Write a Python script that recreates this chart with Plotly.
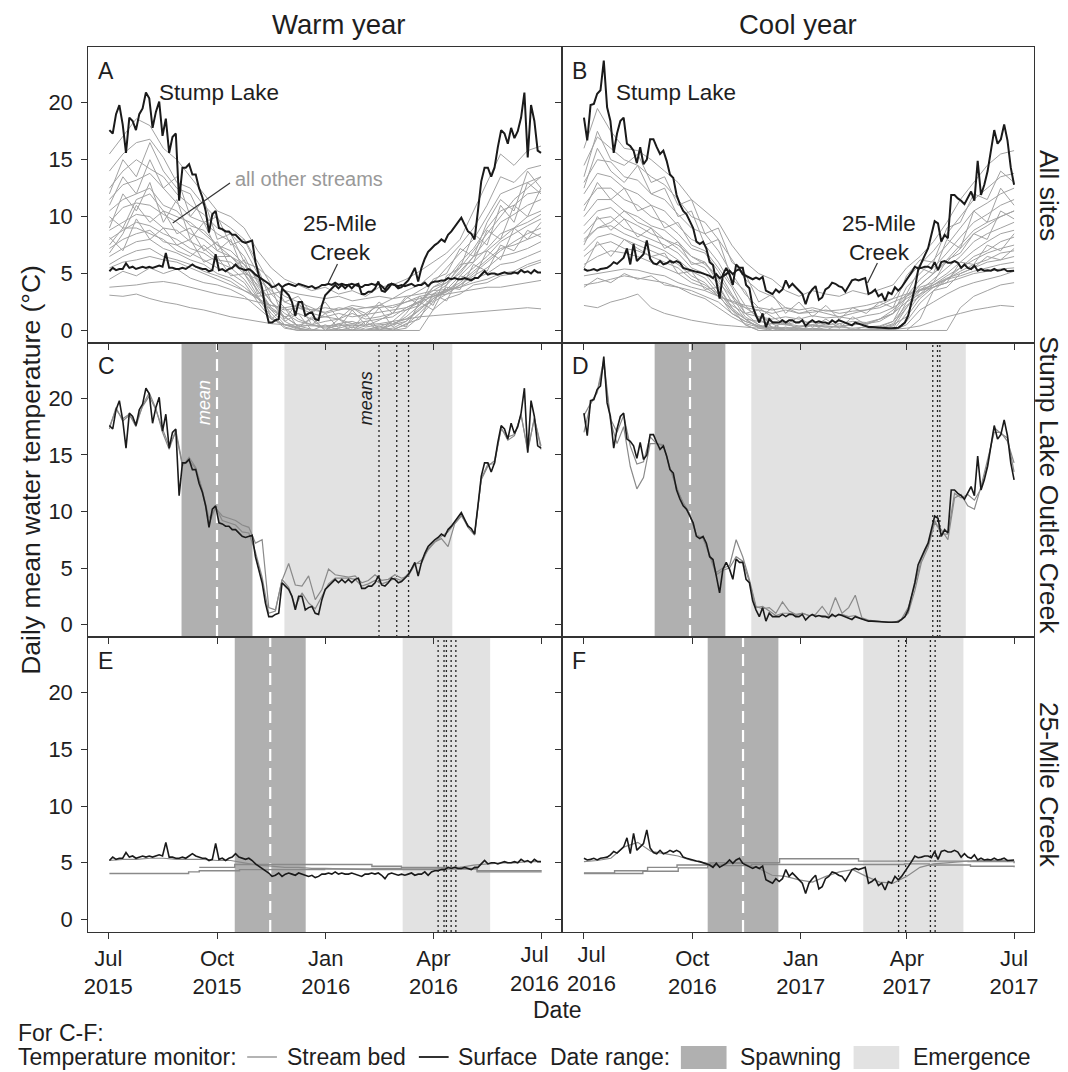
import plotly.graph_objects as go
from plotly.subplots import make_subplots
import pandas as pd

# ------------------------------------------------------------------ data
# Stump Lake Outlet Creek, surface monitor (also the black "Stump Lake" line in A/B)
stump_2015 = [17.6, 17.3, 19.0, 19.8, 18.1, 15.6, 18.7, 18.4, 17.6, 19.0,
              19.5, 20.9, 20.4, 17.8, 19.2, 20.1, 17.1, 18.6, 15.6, 17.0,
              17.3, 11.4, 14.3, 14.3, 14.6, 13.7, 13.7, 12.5, 11.7, 10.5,
              8.6, 10.2, 10.5, 9.0, 8.9, 8.7, 8.7, 8.4, 8.4, 8.1,
              7.8, 7.7, 7.8, 7.9, 6.0, 4.9, 3.7, 1.9, 0.7, 0.7,
              0.9, 1.0, 3.7, 3.4, 3.1, 2.5, 1.3, 2.5, 2.5, 1.3,
              1.5, 1.6, 1.0, 0.9, 2.2, 3.1, 3.4, 3.7, 4.0, 3.7,
              4.0, 3.7, 4.0, 3.7, 4.0, 4.1, 3.2, 3.2, 3.4, 3.4,
              3.7, 4.3, 3.5, 3.4, 3.7, 4.1, 4.0, 3.7, 3.8, 4.1,
              4.4, 4.9, 5.5, 4.3, 5.5, 6.3, 6.9, 7.2, 7.5, 7.7,
              8.0, 7.8, 8.4, 8.7, 9.1, 9.4, 9.9, 9.3, 8.7, 8.5,
              8.0, 10.5, 13.1, 14.3, 14.3, 13.5, 14.3, 16.1, 17.6, 17.3,
              16.4, 17.8, 16.9, 17.5, 18.7, 20.9, 15.2, 19.8, 18.4, 15.8,
              15.6]
stump_2016 = [18.7, 16.7, 19.8, 19.9, 20.8, 21.1, 23.7, 19.6, 18.4, 15.6,
              17.3, 18.4, 18.7, 16.4, 16.2, 15.8, 14.7, 16.1, 14.6, 15.0,
              16.8, 16.8, 16.1, 15.5, 15.8, 14.9, 13.7, 13.4, 11.9, 11.1,
              10.5, 10.2, 9.6, 9.0, 7.8, 7.6, 7.8, 7.2, 6.0, 5.75,
              4.3, 2.8, 4.9, 5.5, 4.9, 4.0, 5.8, 5.5, 5.5, 4.0,
              3.7, 2.1, 1.3, 0.7, 1.5, 0.3, 1.0, 0.7, 0.7, 0.7,
              0.9, 0.7, 0.9, 0.9, 0.7, 0.7, 0.9, 0.4, 0.7, 0.9,
              0.7, 0.8, 0.7, 0.7, 0.6, 0.9, 0.7, 0.9, 0.8, 0.7,
              0.6, 0.45, 0.7, 0.6, 0.45, 0.4, 0.3, 0.3, 0.27, 0.24,
              0.24, 0.2, 0.2, 0.2, 0.2, 0.24, 0.45, 0.7, 1.3, 2.5,
              3.7, 5.3, 6.0, 6.6, 7.2, 8.4, 9.6, 9.4, 7.8, 8.4,
              8.1, 11.9, 11.9, 11.6, 11.4, 11.1, 11.7, 12.2, 11.4, 14.9,
              11.9, 12.8, 14.0, 15.8, 17.6, 16.4, 16.8, 18.1, 16.7, 14.3,
              12.8]

# 25-Mile Creek, surface monitor (also the black "25-Mile Creek" line in A/B)
mile25_2015 = [5.2, 5.5, 5.3, 5.4, 5.4, 5.9, 5.5, 5.6, 5.4, 5.5,
               5.6, 5.5, 5.6, 5.5, 5.6, 5.7, 5.6, 6.8, 5.5, 5.5,
               5.4, 5.4, 5.5, 5.4, 5.6, 5.8, 5.6, 5.5, 5.4, 5.4,
               5.2, 5.3, 6.7, 5.3, 5.4, 5.2, 5.4, 5.5, 5.8, 5.5,
               5.4, 5.3, 5.4, 5.2, 4.9, 4.7, 4.5, 4.3, 4.1, 3.8,
               3.9, 4.1, 3.8, 4.0, 4.1, 4.0, 3.9, 4.1, 4.0, 3.9,
               3.8, 3.9, 3.7, 3.8, 4.0, 4.0, 4.1, 4.0, 4.2, 4.0,
               4.1, 4.0, 4.0, 4.1, 4.0, 3.9, 3.8, 4.0, 4.0, 4.1,
               4.0, 4.1, 3.9, 3.6, 4.0, 4.1, 4.0, 3.9, 4.0, 3.9,
               4.0, 4.1, 3.9, 4.0, 4.0, 4.2, 3.9, 4.2, 4.3, 4.3,
               4.4, 4.4, 4.6, 4.5, 4.6, 4.5, 4.5, 4.6, 4.5, 4.4,
               4.6, 4.6, 4.9, 5.2, 4.9, 5.0, 5.0, 4.9, 5.0, 5.1,
               5.0, 5.0, 5.1, 5.0, 5.3, 5.1, 5.2, 5.0, 5.3, 5.1,
               5.1]
mile25_2016 = [5.4, 5.25, 5.3, 5.4, 5.25, 5.4, 5.45, 5.5, 5.7, 6.0,
               5.85, 6.1, 6.4, 7.2, 5.8, 7.6, 6.1, 6.4, 6.7, 7.9,
               6.3, 5.9, 5.8, 6.1, 5.8, 5.9, 6.1, 5.95, 6.1, 5.95,
               5.5, 5.4, 5.3, 5.25, 5.15, 5.1, 5.0, 4.95, 4.8, 4.6,
               4.95, 4.6, 4.8, 4.95, 5.25, 4.95, 5.25, 5.4, 4.95, 4.8,
               4.65, 4.5, 4.65, 4.5, 4.7, 3.5, 3.35, 3.2, 3.6, 3.35,
               3.6, 4.4, 3.8, 4.1, 3.8, 3.5, 3.2, 2.3, 3.2, 3.6,
               3.9, 2.7, 2.9, 3.6, 3.8, 4.2, 4.1, 3.9, 3.8, 3.4,
               3.9, 4.4, 4.5, 4.4, 4.5, 4.6, 3.2, 3.35, 3.6, 3.0,
               3.2, 2.6, 3.35, 3.2, 3.8, 3.5, 3.8, 4.2, 4.65, 5.1,
               5.6, 5.45, 5.5, 5.6, 5.6, 5.45, 6.0, 5.3, 6.0, 6.1,
               5.95, 5.95, 6.1, 5.95, 5.5, 5.8, 5.5, 5.4, 5.7, 5.25,
               5.4, 5.25, 5.3, 5.25, 5.4, 5.25, 5.3, 5.4, 5.2, 5.25,
               5.25]

# Stump Lake Outlet Creek, stream-bed monitors
stump_bed_2015_a = [17.3, 19.2, 18.0, 18.5, 17.8, 19.3, 20.2, 19.0, 17.3, 15.8,
                    17.0, 14.0, 14.8, 13.9, 11.9, 9.4, 10.3, 9.6, 9.4, 9.2,
                    8.8, 8.6, 7.2, 7.5, 1.5, 1.3, 3.9, 5.4, 3.5, 3.4,
                    4.3, 2.2, 3.1, 4.9, 4.4, 4.3, 4.2, 4.3, 3.7, 3.9,
                    4.4, 3.9, 4.0, 4.4, 4.1, 4.3, 5.3, 5.7, 6.6, 7.3,
                    7.6, 6.9, 8.9, 9.6, 8.8, 8.0, 12.8, 14.0, 14.5, 17.3,
                    16.6, 16.8, 18.5, 15.5, 18.2, 15.8]
stump_bed_2015_b = [17.5, 19.0, 18.2, 18.6, 17.5, 19.4, 20.5, 19.1, 17.0, 15.5,
                    17.2, 14.2, 14.5, 13.8, 11.8, 8.9, 10.4, 9.2, 9.0, 8.8,
                    8.2, 8.1, 6.4, 4.2, 1.0, 1.2, 4.0, 3.3, 1.6, 2.8,
                    1.9, 1.4, 2.5, 3.6, 4.1, 4.1, 4.1, 4.0, 3.4, 3.6,
                    3.9, 3.6, 3.8, 4.1, 3.9, 4.5, 5.4, 5.4, 6.7, 7.3,
                    7.8, 8.2, 8.9, 9.7, 8.6, 7.9, 12.9, 14.2, 14.2, 17.4,
                    16.3, 16.7, 18.6, 15.3, 18.3, 15.5]
stump_bed_2016_a = [17.0, 19.5, 20.5, 23.0, 18.0, 16.0, 17.5, 14.0, 12.0, 13.0,
                    16.0, 16.0, 15.8, 13.9, 12.0, 10.8, 9.8, 7.9, 7.6, 6.2,
                    4.6, 5.0, 5.2, 7.5, 6.0, 4.0, 1.6, 1.4, 1.5, 1.0,
                    2.0, 1.2, 0.9, 1.0, 0.8, 0.9, 1.6, 0.8, 2.4, 1.0,
                    1.5, 2.6, 0.6, 0.4, 0.3, 0.25, 0.2, 0.2, 0.4, 1.0,
                    3.0, 5.5, 6.8, 9.0, 8.4, 7.5, 11.2, 11.5, 10.5, 10.2,
                    12.2, 14.5, 17.0, 17.0, 16.2, 14.3]
stump_bed_2016_b = [18.5, 19.6, 20.6, 23.4, 18.2, 17.0, 18.5, 15.8, 14.2, 14.4,
                    16.6, 16.0, 15.9, 13.8, 12.1, 10.6, 9.7, 7.9, 7.7, 6.1,
                    4.4, 4.8, 5.0, 6.0, 5.6, 3.8, 1.5, 1.6, 1.2, 0.8,
                    1.0, 1.0, 0.8, 1.0, 0.8, 0.8, 0.8, 0.7, 0.8, 0.9,
                    0.7, 0.8, 0.5, 0.35, 0.3, 0.25, 0.2, 0.2, 0.5, 1.5,
                    3.5, 5.8, 7.0, 9.2, 8.0, 8.0, 11.6, 11.2, 11.5, 11.0,
                    12.0, 14.2, 17.4, 16.9, 16.5, 13.5]

# 25-Mile Creek, stream-bed monitors
mile25_bed_2015_a = [5.2, 5.3, 5.3, 5.4, 5.4, 5.3, 5.3, 5.3, 5.2, 5.2, 5.0, 4.8,
                     4.7, 4.6, 4.6, 4.5, 4.5, 4.45, 4.45, 4.4, 4.4, 4.4, 4.4,
                     4.35, 4.4, 4.5, 4.6, 4.8, 4.9, 5.0, 5.0, 5.1, 5.1]
mile25_bed_2015_b_dates = ["2015-07-02", "2015-09-07", "2015-09-16", "2015-10-20",
                           "2015-12-31", "2016-02-09", "2016-03-05", "2016-05-08",
                           "2016-07-01"]
mile25_bed_2015_b = [4.05, 4.2, 4.3, 4.4, 4.45, 4.5, 4.45, 4.2, 4.15]
mile25_bed_2015_c_dates = ["2015-09-16", "2015-10-16", "2016-02-09", "2016-03-05",
                           "2016-04-24", "2016-05-08", "2016-07-01"]
mile25_bed_2015_c = [4.6, 4.85, 4.7, 4.6, 4.5, 4.3, 4.25]

mile25_bed_2016_a = [5.1, 5.2, 5.4, 6.4, 6.8, 6.0, 5.8, 5.6, 5.2, 5.0, 4.8, 5.0,
                     4.9, 4.5, 3.9, 3.8, 3.5, 3.3, 3.8, 4.2, 4.4, 3.8, 3.3,
                     3.2, 3.8, 4.6, 4.9, 5.0, 5.1, 5.2, 5.2, 5.2, 5.2]
mile25_bed_2016_b_dates = ["2016-07-01", "2016-07-27", "2016-08-24", "2016-09-18",
                           "2016-10-16", "2016-12-14", "2017-02-19", "2017-05-23",
                           "2017-07-01"]
mile25_bed_2016_b = [4.1, 4.3, 4.6, 4.8, 5.0, 5.35, 5.15, 5.1, 4.95]
mile25_bed_2016_c_dates = ["2016-07-01", "2016-08-20", "2016-09-19", "2016-10-14",
                           "2016-11-20", "2017-03-30", "2017-04-20", "2017-05-25",
                           "2017-07-01"]
mile25_bed_2016_c = [4.05, 4.25, 4.55, 4.75, 4.85, 4.9, 4.8, 4.7, 4.6]

# All other streams (surface), warm year 2015-16
others_2015_01 = [15.5, 17.0, 18.6, 18.0, 16.0, 15.0, 13.5, 12.0, 10.5, 10.0, 9.0, 7.0, 5.5, 4.5, 4.0, 3.5, 3.8, 3.2, 3.5, 3.0, 3.8, 4.0, 4.5, 5.2, 6.0, 6.8, 8.0, 10.5, 13.0, 15.5, 14.5, 15.8, 16.2]
others_2015_02 = [14.0, 15.5, 16.5, 16.8, 15.2, 13.0, 12.5, 11.0, 9.8, 9.0, 8.0, 6.0, 4.0, 3.0, 2.5, 2.0, 1.5, 1.8, 2.0, 1.5, 2.2, 2.8, 3.5, 4.0, 5.0, 6.2, 7.5, 9.0, 11.0, 13.5, 13.0, 14.2, 14.5]
others_2015_03 = [12.5, 14.0, 15.0, 14.2, 13.5, 12.0, 11.0, 10.2, 9.0, 8.5, 7.2, 5.0, 3.2, 2.0, 1.0, 0.5, 0.3, 0.6, 0.8, 0.4, 0.9, 1.5, 2.8, 3.5, 4.2, 5.5, 6.8, 8.0, 10.0, 12.0, 12.5, 13.0, 13.5]
others_2015_04 = [11.5, 12.8, 13.2, 13.8, 12.5, 11.2, 10.0, 9.5, 8.5, 7.8, 6.5, 4.2, 2.5, 1.2, 0.4, 0.1, 0.0, 0.2, 0.5, 0.1, 0.3, 0.8, 1.8, 2.5, 3.8, 4.5, 6.0, 7.2, 9.0, 10.5, 11.0, 12.0, 12.2]
others_2015_05 = [10.5, 11.5, 12.0, 12.5, 11.0, 10.5, 9.2, 8.8, 7.5, 7.0, 5.8, 3.8, 2.0, 0.8, 0.2, 0.0, 0.0, 0.1, 0.0, 0.0, 0.2, 0.5, 1.2, 2.2, 3.2, 4.0, 5.2, 6.5, 8.0, 9.5, 10.2, 11.0, 11.5]
others_2015_06 = [9.5, 10.8, 11.2, 11.0, 10.2, 9.5, 8.5, 8.0, 7.0, 6.5, 5.5, 3.5, 1.8, 0.5, 0.1, 0.0, 0.0, 0.0, 0.1, 0.0, 0.1, 0.2, 0.8, 1.8, 3.0, 3.6, 4.8, 6.0, 7.2, 8.5, 9.0, 10.0, 10.5]
others_2015_07 = [8.8, 9.5, 10.2, 10.0, 9.0, 8.8, 7.8, 7.2, 6.2, 6.0, 5.0, 3.0, 1.5, 0.3, 0.0, 0.0, 0.0, 0.0, 0.0, 0.0, 0.0, 0.1, 0.5, 1.5, 2.8, 3.4, 4.5, 5.5, 6.5, 7.8, 8.5, 9.2, 9.8]
others_2015_08 = [8.0, 8.8, 9.5, 9.2, 8.5, 8.0, 7.2, 6.8, 6.0, 5.5, 4.5, 2.8, 1.2, 0.2, 0.0, 0.0, 0.0, 0.0, 0.0, 0.0, 0.0, 0.0, 0.2, 1.2, 2.5, 3.2, 4.0, 5.0, 6.0, 7.0, 7.8, 8.5, 9.0]
others_2015_09 = [7.2, 8.0, 8.5, 8.8, 7.8, 7.5, 6.8, 6.2, 5.5, 5.0, 4.2, 2.5, 1.0, 0.5, 0.3, 0.5, 0.2, 0.4, 0.6, 0.3, 0.5, 0.6, 1.0, 1.8, 2.8, 3.5, 4.2, 5.2, 6.2, 7.2, 7.5, 8.0, 8.5]
others_2015_10 = [6.5, 7.2, 7.8, 8.0, 7.2, 6.8, 6.2, 5.8, 5.0, 4.6, 3.8, 2.8, 1.8, 1.2, 1.5, 1.0, 1.2, 1.5, 1.2, 1.4, 1.6, 1.8, 2.0, 2.5, 3.0, 3.4, 4.0, 4.8, 5.5, 6.5, 6.8, 7.2, 7.8]
others_2015_11 = [5.8, 6.5, 7.0, 7.2, 6.5, 6.2, 5.8, 5.2, 4.8, 4.3, 3.5, 2.8, 2.2, 1.8, 2.0, 1.8, 1.6, 2.0, 1.8, 2.0, 2.2, 2.0, 2.5, 3.0, 3.2, 3.5, 3.8, 4.5, 5.0, 5.8, 6.0, 6.5, 7.0]
others_2015_12 = [5.5, 6.0, 6.2, 6.5, 6.2, 6.0, 5.5, 5.0, 4.5, 4.0, 3.5, 3.0, 3.2, 3.5, 3.2, 3.0, 2.8, 3.0, 2.6, 2.8, 3.0, 2.8, 3.0, 3.2, 3.5, 3.6, 3.8, 4.2, 4.5, 5.0, 5.2, 5.8, 6.2]
others_2015_13 = [3.8, 3.9, 4.0, 4.2, 4.3, 4.1, 3.8, 3.5, 3.2, 3.0, 2.8, 2.5, 2.2, 2.0, 2.2, 1.8, 2.0, 1.8, 2.2, 2.0, 2.0, 2.2, 2.5, 2.8, 3.0, 3.2, 3.4, 3.6, 3.8, 3.8, 4.0, 4.2, 4.4]
others_2015_14 = [3.1, 3.0, 3.2, 2.8, 2.5, 2.3, 2.0, 1.8, 1.5, 1.2, 1.0, 0.8, 0.6, 0.5, 0.5, 0.4, 0.4, 0.5, 0.4, 0.5, 0.6, 0.8, 1.0, 1.2, 1.3, 1.4, 1.5, 1.6, 1.7, 1.8, 1.9, 2.0, 1.9]
others_2015_15 = [10.0, 9.0, 11.5, 12.0, 10.5, 10.0, 9.5, 8.5, 7.5, 6.5, 5.2, 4.0, 2.5, 1.5, 0.8, 0.5, 0.8, 1.0, 0.6, 0.8, 1.0, 1.2, 2.0, 2.6, 3.5, 4.2, 5.5, 7.0, 8.5, 10.0, 11.5, 12.5, 13.5]
others_2015_16 = [7.5, 9.0, 9.0, 8.5, 8.0, 7.0, 6.5, 7.5, 6.5, 6.5, 5.8, 4.5, 3.5, 2.5, 2.0, 1.5, 1.2, 1.0, 1.5, 1.0, 1.2, 1.5, 1.8, 2.2, 3.8, 4.2, 5.0, 6.5, 7.0, 8.0, 9.0, 9.5, 10.2]
others_2015_17 = [11.0, 13.5, 12.0, 15.0, 12.5, 13.5, 10.0, 11.5, 8.0, 8.5, 6.0, 5.5, 2.5, 1.0, 2.5, 0.5, 1.5, 0.2, 1.8, 0.5, 2.0, 0.3, 1.5, 3.0, 2.2, 4.8, 5.5, 8.5, 7.5, 11.0, 9.5, 13.0, 12.0]
others_2015_18 = [9.0, 12.0, 10.5, 13.0, 9.5, 11.5, 8.0, 9.5, 7.0, 8.0, 5.0, 4.5, 1.0, 2.0, 0.2, 1.2, 0.0, 1.0, 0.2, 1.5, 0.0, 0.8, 0.3, 2.5, 1.8, 4.0, 5.8, 6.0, 8.8, 8.0, 11.0, 10.0, 12.5]
others_2015_19 = [6.8, 8.5, 11.0, 9.5, 10.5, 8.5, 9.0, 7.0, 7.8, 5.5, 6.2, 3.2, 3.8, 0.8, 1.5, 0.0, 0.5, 0.0, 0.3, 0.0, 0.4, 0.0, 0.6, 1.0, 3.2, 2.6, 4.8, 4.5, 7.0, 6.2, 9.0, 8.0, 9.5]
others_2015_20 = [12.0, 15.0, 13.5, 16.5, 14.0, 12.5, 12.0, 9.5, 10.0, 7.5, 8.0, 5.5, 4.5, 2.5, 3.0, 1.5, 2.5, 1.0, 2.0, 1.2, 2.5, 1.5, 3.0, 2.2, 4.5, 5.0, 7.2, 6.5, 9.5, 11.5, 10.5, 14.0, 12.5]
others_2015_21 = [8.2, 7.0, 9.8, 8.0, 9.0, 7.5, 8.0, 6.0, 6.5, 4.8, 5.0, 3.5, 2.0, 1.2, 0.4, 1.0, 0.0, 0.6, 0.0, 0.8, 0.0, 0.5, 0.8, 2.0, 2.6, 3.8, 3.6, 5.8, 5.2, 7.5, 7.0, 8.8, 8.2]
others_2015_22 = [4.5, 5.2, 4.8, 5.5, 5.0, 5.4, 4.6, 4.2, 4.0, 3.6, 3.0, 2.0, 1.0, 0.5, 0.2, 0.0, 0.0, 0.0, 0.0, 0.0, 0.0, 0.0, 0.0, 0.0, 1.8, 2.8, 3.2, 4.0, 4.2, 4.8, 5.0, 5.6, 6.0]

# All other streams (surface), cool year 2016-17
others_2016_01 = [16.0, 19.5, 17.5, 16.0, 15.8, 15.0, 14.0, 13.0, 11.5, 10.5, 9.5, 7.5, 6.0, 5.0, 4.5, 3.5, 3.0, 3.5, 3.2, 3.0, 3.5, 3.2, 3.6, 4.0, 5.5, 6.5, 7.8, 9.5, 11.5, 13.0, 14.5, 15.5, 15.8]
others_2016_02 = [14.5, 17.0, 16.0, 15.0, 14.5, 13.5, 12.8, 11.5, 10.0, 9.5, 8.0, 6.2, 4.5, 3.5, 3.0, 2.0, 1.5, 1.8, 1.5, 1.2, 1.5, 1.8, 2.2, 2.8, 4.5, 5.8, 7.0, 8.5, 10.0, 11.5, 12.5, 13.5, 13.8]
others_2016_03 = [13.0, 15.0, 14.8, 13.5, 13.2, 12.0, 11.5, 10.2, 9.0, 8.5, 7.0, 5.0, 3.2, 2.0, 1.2, 0.5, 0.3, 0.5, 0.4, 0.3, 0.5, 0.6, 1.0, 1.5, 3.8, 5.0, 6.2, 7.5, 9.0, 10.5, 11.2, 12.0, 12.5]
others_2016_04 = [12.0, 13.8, 13.5, 12.5, 12.0, 11.0, 10.5, 9.2, 8.0, 7.5, 6.0, 4.0, 2.2, 1.0, 0.3, 0.0, 0.0, 0.2, 0.1, 0.0, 0.0, 0.1, 0.3, 0.8, 3.0, 4.5, 5.5, 6.8, 8.2, 9.5, 10.2, 11.0, 11.5]
others_2016_05 = [11.0, 12.5, 12.5, 11.5, 11.0, 10.0, 9.5, 8.5, 7.2, 6.8, 5.2, 3.2, 1.5, 0.5, 0.0, 0.0, 0.0, 0.0, 0.0, 0.0, 0.0, 0.0, 0.1, 0.4, 2.5, 4.0, 5.0, 6.0, 7.2, 8.5, 9.2, 10.0, 10.5]
others_2016_06 = [10.0, 11.5, 11.5, 10.5, 10.0, 9.2, 8.8, 7.8, 6.5, 6.0, 4.5, 2.5, 1.0, 0.2, 0.0, 0.0, 0.0, 0.0, 0.0, 0.0, 0.0, 0.0, 0.0, 0.2, 2.0, 3.5, 4.5, 5.5, 6.5, 7.8, 8.5, 9.0, 9.5]
others_2016_07 = [9.2, 10.5, 10.8, 9.8, 9.2, 8.5, 8.0, 7.2, 6.0, 5.5, 4.0, 2.0, 0.5, 0.0, 0.0, 0.0, 0.0, 0.0, 0.0, 0.0, 0.0, 0.0, 0.0, 0.0, 1.5, 3.2, 4.2, 5.0, 6.0, 7.0, 7.8, 8.5, 8.8]
others_2016_08 = [8.5, 9.8, 10.0, 9.0, 8.5, 8.0, 7.5, 6.8, 5.5, 5.0, 3.5, 1.8, 0.5, 0.0, 0.0, 0.0, 0.0, 0.0, 0.0, 0.0, 0.0, 0.0, 0.0, 0.0, 0.0, 1.0, 3.5, 4.5, 5.5, 6.5, 7.0, 7.8, 8.2]
others_2016_09 = [7.8, 9.0, 9.2, 8.5, 8.0, 7.5, 7.0, 6.2, 5.2, 4.6, 3.2, 1.5, 0.8, 0.4, 0.3, 0.2, 0.3, 0.4, 0.3, 0.3, 0.2, 0.3, 0.4, 0.8, 2.2, 3.0, 4.0, 4.8, 5.5, 6.2, 6.8, 7.2, 7.5]
others_2016_10 = [7.0, 8.2, 8.5, 8.0, 7.5, 7.0, 6.5, 5.8, 4.8, 4.2, 3.0, 1.8, 1.0, 0.8, 0.6, 0.5, 0.8, 0.7, 0.5, 0.6, 0.8, 0.7, 1.0, 1.5, 2.5, 3.2, 3.8, 4.5, 5.2, 5.8, 6.2, 6.8, 7.0]
others_2016_11 = [6.5, 7.5, 7.8, 7.2, 7.0, 6.5, 6.0, 5.5, 4.5, 4.0, 3.2, 2.2, 1.5, 1.2, 1.0, 1.2, 1.0, 1.3, 1.1, 1.2, 1.0, 1.3, 1.5, 2.0, 2.8, 3.5, 4.0, 4.6, 5.0, 5.5, 6.0, 6.2, 6.5]
others_2016_12 = [5.8, 6.5, 7.0, 6.8, 6.5, 6.0, 5.5, 5.0, 4.2, 3.8, 3.0, 2.5, 2.0, 1.8, 1.5, 1.8, 1.5, 1.6, 1.8, 1.5, 1.7, 1.8, 2.0, 2.5, 3.0, 3.6, 4.0, 4.5, 4.8, 5.2, 5.5, 5.8, 6.0]
others_2016_13 = [4.8, 5.0, 5.2, 5.4, 5.3, 5.0, 4.8, 4.2, 3.8, 3.5, 3.0, 2.6, 2.2, 2.0, 1.8, 2.0, 1.8, 2.0, 1.7, 1.8, 2.0, 2.2, 2.5, 2.8, 3.2, 3.5, 3.8, 4.2, 4.6, 5.0, 5.2, 5.4, 5.5]
others_2016_14 = [4.0, 4.2, 4.5, 4.8, 4.6, 4.4, 4.2, 3.8, 3.2, 2.8, 2.0, 1.2, 0.6, 0.3, 0.2, 0.1, 0.1, 0.1, 0.0, 0.0, 0.0, 0.0, 0.0, 0.0, 0.0, 0.0, 0.0, 0.0, 2.0, 3.0, 3.5, 4.0, 4.2]
others_2016_15 = [2.2, 2.0, 2.5, 2.8, 3.2, 2.0, 1.5, 1.2, 0.9, 0.7, 0.5, 0.4, 0.3, 0.2, 0.2, 0.2, 0.2, 0.1, 0.1, 0.1, 0.1, 0.1, 0.1, 0.1, 0.2, 0.4, 0.8, 1.2, 1.5, 1.8, 2.0, 2.2, 2.1]
others_2016_16 = [8.0, 9.0, 9.5, 10.5, 9.5, 9.0, 8.0, 7.5, 6.5, 5.8, 4.8, 3.0, 2.0, 1.2, 0.8, 0.6, 0.4, 0.5, 0.3, 0.4, 0.5, 0.6, 0.8, 1.5, 3.0, 4.0, 5.0, 6.2, 7.5, 8.8, 9.5, 10.0, 10.5]
others_2016_17 = [12.5, 16.0, 14.0, 13.0, 14.5, 12.0, 12.5, 10.0, 10.5, 7.5, 8.0, 4.5, 3.5, 1.0, 2.0, 0.5, 1.2, 0.3, 1.0, 0.2, 1.2, 0.5, 1.0, 1.8, 3.2, 5.5, 5.0, 8.0, 7.2, 10.5, 9.5, 12.5, 11.0]
others_2016_18 = [10.5, 13.0, 11.5, 12.5, 10.5, 11.0, 9.0, 9.5, 7.5, 7.0, 5.5, 3.8, 1.5, 1.8, 0.2, 0.8, 0.0, 0.5, 0.0, 0.6, 0.0, 0.4, 0.2, 0.6, 2.0, 3.8, 4.2, 6.2, 6.8, 8.5, 8.0, 10.5, 9.8]
others_2016_19 = [7.5, 10.0, 8.8, 9.8, 8.2, 9.0, 7.2, 7.8, 5.8, 6.0, 4.2, 3.0, 1.2, 0.5, 0.0, 0.3, 0.0, 0.2, 0.0, 0.0, 0.1, 0.0, 0.2, 0.5, 1.2, 2.8, 3.8, 4.2, 6.0, 5.8, 7.5, 7.0, 8.5]
others_2016_20 = [13.5, 17.5, 15.0, 14.5, 15.5, 13.0, 13.5, 11.0, 11.5, 8.5, 9.0, 6.0, 5.0, 2.5, 3.2, 1.5, 2.5, 1.2, 2.2, 1.0, 2.0, 1.5, 2.5, 2.0, 4.8, 6.2, 6.0, 9.0, 9.5, 12.0, 11.5, 14.0, 13.0]
others_2016_21 = [5.5, 7.8, 6.5, 8.0, 7.2, 6.5, 6.8, 5.0, 5.2, 3.6, 3.8, 2.0, 1.0, 0.3, 0.6, 0.0, 0.2, 0.0, 0.0, 0.0, 0.0, 0.0, 0.0, 0.0, 0.8, 2.4, 3.5, 3.8, 5.0, 5.5, 6.5, 6.2, 7.2]
others_2016_22 = [3.8, 4.6, 4.2, 5.0, 4.5, 4.8, 4.0, 3.8, 3.5, 3.0, 2.5, 1.5, 0.8, 0.4, 0.2, 0.0, 0.0, 0.0, 0.0, 0.0, 0.0, 0.0, 0.0, 0.0, 0.5, 1.8, 2.5, 3.2, 3.8, 4.2, 4.5, 4.8, 5.2]

others_2015 = [others_2015_01, others_2015_02, others_2015_03, others_2015_04,
               others_2015_05, others_2015_06, others_2015_07, others_2015_08,
               others_2015_09, others_2015_10, others_2015_11, others_2015_12,
               others_2015_13, others_2015_14, others_2015_15, others_2015_16,
               others_2015_17, others_2015_18, others_2015_19, others_2015_20,
               others_2015_21, others_2015_22]
others_2016 = [others_2016_01, others_2016_02, others_2016_03, others_2016_04,
               others_2016_05, others_2016_06, others_2016_07, others_2016_08,
               others_2016_09, others_2016_10, others_2016_11, others_2016_12,
               others_2016_13, others_2016_14, others_2016_15, others_2016_16,
               others_2016_17, others_2016_18, others_2016_19, others_2016_20,
               others_2016_21, others_2016_22]

# Date ranges (spawning / emergence) and their means
spawn_stump_2015 = ["2015-09-01", "2015-10-31"]
emerge_stump_2015 = ["2015-11-27", "2016-04-17"]
spawn_mean_stump_2015 = "2015-10-01"
emerge_means_stump_2015 = ["2016-02-15", "2016-03-01", "2016-03-11"]

spawn_stump_2016 = ["2016-08-30", "2016-10-29"]
emerge_stump_2016 = ["2016-11-20", "2017-05-21"]
spawn_mean_stump_2016 = "2016-09-29"
emerge_means_stump_2016 = ["2017-04-23", "2017-04-27", "2017-04-29"]

spawn_mile25_2015 = ["2015-10-16", "2015-12-15"]
emerge_mile25_2015 = ["2016-03-06", "2016-05-19"]
spawn_mean_mile25_2015 = "2015-11-15"
emerge_means_mile25_2015 = ["2016-04-05", "2016-04-10", "2016-04-12", "2016-04-16", "2016-04-20"]

spawn_mile25_2016 = ["2016-10-14", "2016-12-13"]
emerge_mile25_2016 = ["2017-02-23", "2017-05-19"]
spawn_mean_mile25_2016 = "2016-11-13"
emerge_means_mile25_2016 = ["2017-03-25", "2017-03-31", "2017-04-21", "2017-04-25"]

tick_vals_2015 = ["2015-07-01", "2015-10-01", "2016-01-01", "2016-04-01", "2016-07-01"]
tick_text_2015 = ["Jul<br>2015", "Oct<br>2015", "Jan<br>2016", "Apr<br>2016", ""]
tick_vals_2016 = ["2016-07-01", "2016-10-01", "2017-01-01", "2017-04-01", "2017-07-01"]
tick_text_2016 = ["", "Oct<br>2016", "Jan<br>2017", "Apr<br>2017", "Jul<br>2017"]
# the two adjacent "Jul 2016" labels at the column join (placed side by side)
join_labels = ["Jul<br>2016", "Jul<br>2016"]
y_ticks = [0, 5, 10, 15, 20]

# ------------------------------------------------------------------ style
W, H = 1068, 1072
FONT = "Liberation Sans, Arial, Helvetica, sans-serif"
TXT = "#1e1e1e"
AX = "#333333"
BLACK = "#1a1a1a"
GRAY_OTHER = "#a2a2a2"
GRAY_BED = "#8a8a8a"
SPAWN_FILL = "#b0b0b0"
EMERGE_FILL = "#e2e2e2"


def px(x):
    return x / W


def py(y):
    return 1 - y / H


def span(start, end, n):
    return pd.date_range(start, end, periods=n)


YEAR1 = ("2015-07-02", "2016-07-01")
YEAR2 = ("2016-07-01", "2017-07-01")

fig = make_subplots(rows=3, cols=2)


def line(x, y, color, width, row, col, shape="linear"):
    fig.add_trace(go.Scatter(x=x, y=y, mode="lines",
                             line=dict(color=color, width=width, shape=shape),
                             showlegend=False, hoverinfo="skip"),
                  row=row, col=col)


# Panel A / B : all sites
for vals in others_2015:
    line(span(*YEAR1, len(vals)), vals, GRAY_OTHER, 1.0, 1, 1)
line(span(*YEAR1, len(stump_2015)), stump_2015, BLACK, 2.0, 1, 1)
line(span(*YEAR1, len(mile25_2015)), mile25_2015, BLACK, 2.0, 1, 1)

for vals in others_2016:
    line(span(*YEAR2, len(vals)), vals, GRAY_OTHER, 1.0, 1, 2)
line(span(*YEAR2, len(stump_2016)), stump_2016, BLACK, 2.0, 1, 2)
line(span(*YEAR2, len(mile25_2016)), mile25_2016, BLACK, 2.0, 1, 2)

# Panel C / D : Stump Lake Outlet Creek
line(span(*YEAR1, len(stump_bed_2015_a)), stump_bed_2015_a, GRAY_BED, 1.2, 2, 1)
line(span(*YEAR1, len(stump_bed_2015_b)), stump_bed_2015_b, GRAY_BED, 1.2, 2, 1)
line(span(*YEAR1, len(stump_2015)), stump_2015, BLACK, 1.6, 2, 1)

line(span(*YEAR2, len(stump_bed_2016_a)), stump_bed_2016_a, GRAY_BED, 1.2, 2, 2)
line(span(*YEAR2, len(stump_bed_2016_b)), stump_bed_2016_b, GRAY_BED, 1.2, 2, 2)
line(span(*YEAR2, len(stump_2016)), stump_2016, BLACK, 1.6, 2, 2)

# Panel E / F : 25-Mile Creek
line(span(*YEAR1, len(mile25_bed_2015_a)), mile25_bed_2015_a, GRAY_BED, 1.2, 3, 1)
line(pd.to_datetime(mile25_bed_2015_b_dates), mile25_bed_2015_b, GRAY_BED, 1.4, 3, 1, "hv")
line(pd.to_datetime(mile25_bed_2015_c_dates), mile25_bed_2015_c, GRAY_BED, 1.4, 3, 1, "hv")
line(span(*YEAR1, len(mile25_2015)), mile25_2015, BLACK, 1.6, 3, 1)

line(span(*YEAR2, len(mile25_bed_2016_a)), mile25_bed_2016_a, GRAY_BED, 1.2, 3, 2)
line(pd.to_datetime(mile25_bed_2016_b_dates), mile25_bed_2016_b, GRAY_BED, 1.4, 3, 2, "hv")
line(pd.to_datetime(mile25_bed_2016_c_dates), mile25_bed_2016_c, GRAY_BED, 1.4, 3, 2, "hv")
line(span(*YEAR2, len(mile25_2016)), mile25_2016, BLACK, 1.6, 3, 2)

# ------------------------------------------------------------------ axes
x_dom = [(85, 562), (562, 1038)]
y_dom = [(47, 343), (343, 637), (637, 932)]
x_rng = [["2015-06-14 05:00", "2016-07-18 14:00"], ["2016-06-12 05:00", "2017-07-18 02:00"]]
tv = [tick_vals_2015, tick_vals_2016]
tt = [tick_text_2015, tick_text_2016]

for r in range(3):
    for c in range(2):
        i = r * 2 + c + 1
        xa = "xaxis" if i == 1 else f"xaxis{i}"
        ya = "yaxis" if i == 1 else f"yaxis{i}"
        fig.layout[xa].update(
            domain=[px(x_dom[c][0]), px(x_dom[c][1])], range=x_rng[c],
            type="date", tickmode="array", tickvals=tv[c], ticktext=tt[c],
            showticklabels=(r == 2), ticks="outside", ticklen=6, tickwidth=1,
            tickcolor=AX, showline=True, mirror=True, linecolor=AX, linewidth=1.2,
            showgrid=False, zeroline=False,
            tickfont=dict(family=FONT, size=22, color=TXT))
        fig.layout[ya].update(
            domain=[py(y_dom[r][1]), py(y_dom[r][0])], range=[-1.1, 24.9],
            tickmode="array", tickvals=y_ticks, showticklabels=(c == 0),
            ticks="outside", ticklen=6, tickwidth=1, tickcolor=AX,
            showline=True, mirror=True, linecolor=AX, linewidth=1.2,
            showgrid=False, zeroline=False, ticklabelstandoff=4,
            tickfont=dict(family=FONT, size=22, color=TXT))

# ------------------------------------------------------------------ shapes
shapes = []


def add_ranges(i, spawn, emerge, spawn_mean, emerge_means):
    xr = "x" if i == 1 else f"x{i}"
    yr = ("y" if i == 1 else f"y{i}") + " domain"
    shapes.append(dict(type="rect", xref=xr, yref=yr, x0=spawn[0], x1=spawn[1], y0=0, y1=1,
                       fillcolor=SPAWN_FILL, line=dict(width=0), layer="below"))
    shapes.append(dict(type="rect", xref=xr, yref=yr, x0=emerge[0], x1=emerge[1], y0=0, y1=1,
                       fillcolor=EMERGE_FILL, line=dict(width=0), layer="below"))
    shapes.append(dict(type="line", xref=xr, yref=yr, x0=spawn_mean, x1=spawn_mean, y0=0, y1=1,
                       line=dict(color="white", width=2.2, dash="12px,7px"), layer="below"))
    for d in emerge_means:
        shapes.append(dict(type="line", xref=xr, yref=yr, x0=d, x1=d, y0=0, y1=1,
                           line=dict(color="#222222", width=1.3, dash="2px,3px"), layer="below"))


add_ranges(3, spawn_stump_2015, emerge_stump_2015, spawn_mean_stump_2015, emerge_means_stump_2015)
add_ranges(4, spawn_stump_2016, emerge_stump_2016, spawn_mean_stump_2016, emerge_means_stump_2016)
add_ranges(5, spawn_mile25_2015, emerge_mile25_2015, spawn_mean_mile25_2015, emerge_means_mile25_2015)
add_ranges(6, spawn_mile25_2016, emerge_mile25_2016, spawn_mean_mile25_2016, emerge_means_mile25_2016)


def pline(x0, y0, x1, y1, color=AX, width=1.2):
    shapes.append(dict(type="line", xref="paper", yref="paper",
                       x0=px(x0), y0=py(y0), x1=px(x1), y1=py(y1),
                       line=dict(color=color, width=width)))


# leader lines
pline(227.7, 183, 170, 223)
pline(336, 264, 326.7, 283)
pline(880, 263, 870, 283)

# legend swatches
LEG_Y = 1057
pline(245, LEG_Y, 275, LEG_Y, color=GRAY_OTHER, width=1.6)
pline(418, LEG_Y, 448, LEG_Y, color=BLACK, width=1.8)
shapes.append(dict(type="rect", xref="paper", yref="paper", x0=px(682), x1=px(728),
                   y0=py(1069), y1=py(1046), fillcolor=SPAWN_FILL, line=dict(width=0)))
shapes.append(dict(type="rect", xref="paper", yref="paper", x0=px(856), x1=px(902),
                   y0=py(1069), y1=py(1046), fillcolor=EMERGE_FILL, line=dict(width=0)))

fig.update_layout(shapes=shapes)

# ------------------------------------------------------------------ annotations
ann = []


def text(t, x, y, size, xanchor="center", yanchor="middle", color=TXT, angle=0, italic=False):
    f = dict(family=FONT, size=size, color=color)
    if italic:
        f["style"] = "italic"
    ann.append(dict(text=t, x=px(x), y=py(y), xref="paper", yref="paper",
                    xanchor=xanchor, yanchor=yanchor, showarrow=False,
                    textangle=angle, font=f))


text("Warm year", 337, 25, 27.5)
text("Cool year", 800, 25, 27.5)
text("All sites", 1053, 195, 26.5, angle=90)
text("Stump Lake Outlet Creek", 1053, 485, 26.5, angle=90)
text("25-Mile Creek", 1053, 785, 26.5, angle=90)
text("Daily mean water temperature (°C)", 27, 470, 26.5, angle=-90)
text("Date", 558, 1010, 23)

# side-by-side "Jul 2016" labels at the join of the two columns
text(join_labels[0], 561, 940, 22, xanchor="right", yanchor="top")
text(join_labels[1], 565, 940, 22, xanchor="left", yanchor="top")

for lab, x, y in [("A", 93, 71), ("B", 570, 71), ("C", 93, 366),
                  ("D", 570, 366), ("E", 93, 661), ("F", 570, 661)]:
    text(lab, x, y, 23, xanchor="left")

text("Stump Lake", 217, 93, 22.5)
text("Stump Lake", 677, 93, 22.5)
text("25-Mile<br>Creek", 339, 238, 22.5)
text("25-Mile<br>Creek", 882, 238, 22.5)
text("all other streams", 307, 179, 20, color="#999999")
text("mean", 201.5, 402, 18, color="white", angle=-90, italic=True)
text("means", 365, 398, 18, color=TXT, angle=-90, italic=True)

text("For C-F:", 12, 1033, 23, xanchor="left")
text("Temperature monitor:", 12, LEG_Y, 23, xanchor="left")
text("Stream bed", 283, LEG_Y, 23, xanchor="left")
text("Surface", 455, LEG_Y, 23, xanchor="left")
text("Date range:", 548, LEG_Y, 23, xanchor="left")
text("Spawning", 740, LEG_Y, 23, xanchor="left")
text("Emergence", 914, LEG_Y, 23, xanchor="left")

fig.update_layout(annotations=ann)

fig.update_layout(width=W, height=H, margin=dict(l=0, r=0, t=0, b=0),
                  plot_bgcolor="rgba(0,0,0,0)", paper_bgcolor="white",
                  font=dict(family=FONT, color=TXT), showlegend=False)

fig.write_html("out.html")
